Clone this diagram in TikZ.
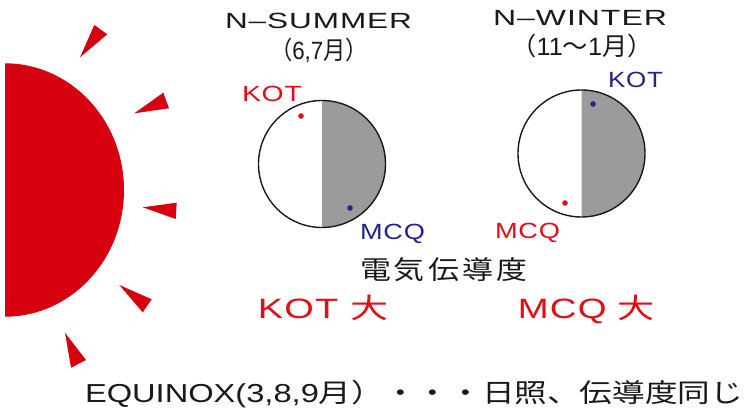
\documentclass[tikz,border=0pt]{standalone}
\usepackage{fontspec}
\usepackage{graphicx}
\setmainfont{Liberation Sans}
\newfontfamily\lat{Liberation Sans}
\newfontfamily\latsp{Liberation Sans}[LetterSpace=3]
\newfontfamily\cjk{Noto Sans CJK JP}
\newfontfamily\cjksp{Noto Sans CJK JP}[LetterSpace=10]
% set text at a given size, then stretch it sideways to a given width
\newcommand\fsz[1]{\fontsize{#1}{#1}\selectfont}
\newcommand\fitto[2]{\resizebox{#1pt}{\height}{#2}}

\definecolor{sunred}{RGB}{215,0,15}
\definecolor{txtred}{RGB}{228,12,22}
\definecolor{navy}{RGB}{35,35,140}
\definecolor{shade}{RGB}{155,155,155}
\definecolor{ink}{RGB}{25,25,25}

\tikzset{
  lbl/.style={inner sep=0pt, outer sep=0pt, anchor=base, text=ink},
  ray/.style={fill=sunred},
  globe/.style={draw=ink, line width=1.4pt},
  night/.style={fill=shade},
}

\begin{document}
\begin{tikzpicture}[x=1pt,y=-1pt]
\useasboundingbox (0,0) rectangle (752,411);

% the sun
\fill[sunred] (5,63.3) arc[start angle=-90,end angle=90,x radius=119,y radius=126.7] -- cycle;
\fill[ray] (94.3,25) -- (107.3,34.3) -- (80,57.3) -- cycle;
\fill[ray] (163.3,92.7) -- (169,108.3) -- (134.3,113.3) -- cycle;
\fill[ray] (176.7,202.7) -- (175.7,219) -- (142.7,207.3) -- cycle;
\fill[ray] (119.3,285) -- (151.7,299.3) -- (142.7,312.3) -- cycle;
\fill[ray] (65,332.7) -- (86,360) -- (71,367.7) -- cycle;

% northern summer
\fill[night] (322,100.5) arc[start angle=-90,end angle=90,radius=63.5] -- cycle;
\draw[globe] (322,164) circle[radius=63.5];
\fill[txtred] (301,116) circle[radius=2.8];
\fill[navy] (350,208) circle[radius=2.8];

% northern winter
\fill[night] (581.5,90) arc[start angle=-90,end angle=90,radius=63.5] -- cycle;
\draw[globe] (581.5,153.5) circle[radius=63.5];
\fill[navy] (593,104) circle[radius=2.8];
\fill[txtred] (565,203) circle[radius=2.8];

% headings
\node[lbl] (sumT) at (318.5,29) {\fitto{187}{\fsz{22}\latsp N–SUMMER}};
\node[lbl] (sumM) at (319,60) {\fitto{98}{\fsz{25}\cjk （\lat 6,7\cjk 月）}};
\node[lbl] (winT) at (580,26) {\fitto{174}{\fsz{22}\latsp N–WINTER}};
\node[lbl] (winM) at (582,56) {\fitto{141}{\fsz{25}\cjk （\lat 11\cjk ～\lat 1\cjk 月）}};

% station labels
\node[lbl,text=txtred] (sKOT) at (272,102) {\fitto{60}{\fsz{22}\latsp KOT}};
\node[lbl,text=navy] (sMCQ) at (392.5,240) {\fitto{65}{\fsz{22}\latsp MCQ}};
\node[lbl,text=navy] (wKOT) at (635.5,88) {\fitto{55}{\fsz{22}\latsp KOT}};
\node[lbl,text=txtred] (wMCQ) at (527.5,239) {\fitto{65}{\fsz{22}\latsp MCQ}};

% conductivity
\node[lbl] (cond) at (443.5,280) {\fitto{167}{\fsz{26}\cjksp 電気伝導度}};
\node[lbl,text=txtred] (sBig) at (323,319) {\fitto{130}{\fsz{28}\latsp KOT\ \cjk 大}};
\node[lbl,text=txtred] (wBig) at (586.5,319) {\fitto{137}{\fsz{28}\latsp MCQ\ \cjk 大}};

% equinox note
\node[lbl,anchor=base west] (equi) at (85,402) {\fitto{658}{\fsz{26}\lat EQUINOX(3,8,9\cjk 月）・・・日照、伝導度同じ}};
\end{tikzpicture}
\end{document}
